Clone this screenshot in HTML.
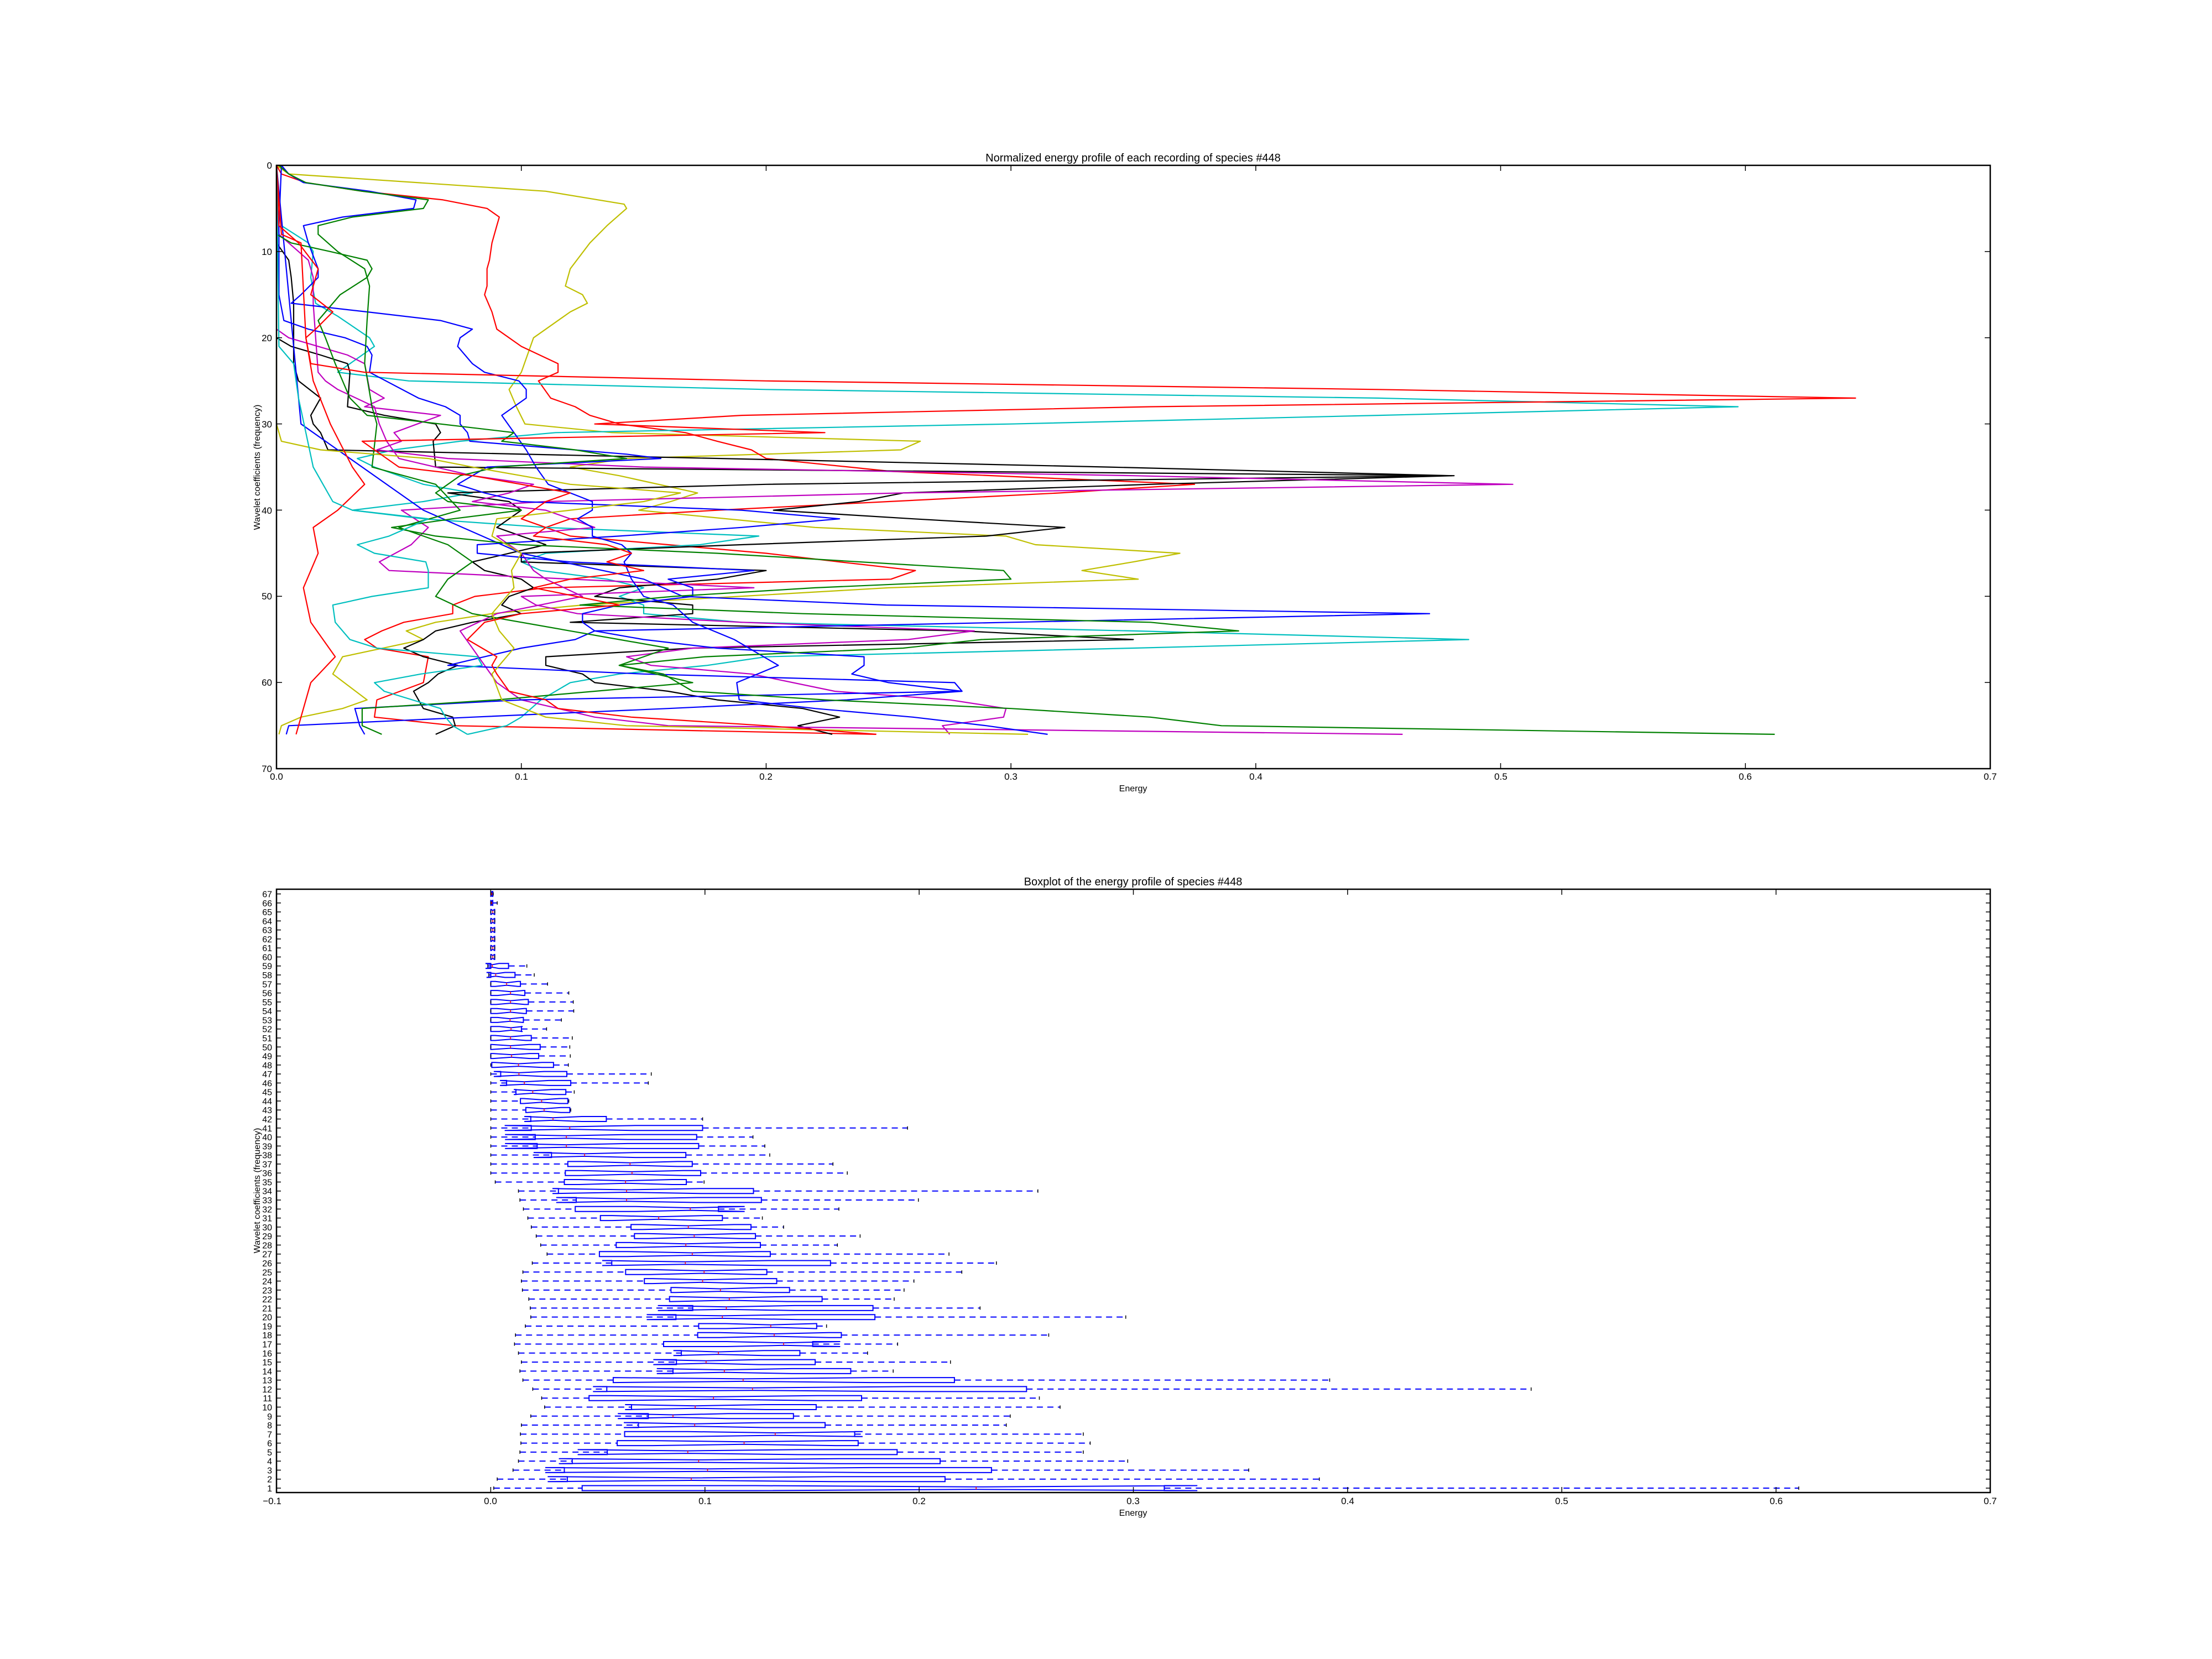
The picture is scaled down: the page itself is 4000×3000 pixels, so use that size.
<!DOCTYPE html>
<html><head><meta charset="utf-8"><style>
html,body{margin:0;padding:0;background:#fff;}
svg{display:block;font-family:"Liberation Sans","DejaVu Sans",sans-serif;}
</style></head><body>
<svg id="s" width="4000" height="3000" viewBox="0 0 4000 3000" xmlns="http://www.w3.org/2000/svg">
<rect width="4000" height="3000" fill="#fff"/>
<g id="top"></g>
<g id="bot"></g>
<!-- axes frames -->
<rect x="500" y="299" width="3099" height="1091" fill="none" stroke="#000" stroke-width="2.5"/>
<rect x="500" y="1608" width="3099" height="1091" fill="none" stroke="#000" stroke-width="2.5"/>
<g id="ticks" stroke="#000" stroke-width="1.5"></g>
<g font-size="20" text-anchor="middle" fill="#000">
<text x="2049" y="292">Normalized energy profile of each recording of species #448</text>
<text x="2049" y="1601">Boxplot of the energy profile of species #448</text>
</g>
<g font-size="16" text-anchor="middle" fill="#000">
<text x="2049" y="1431">Energy</text>
<text x="2049" y="2741">Energy</text>
<text transform="translate(470,845) rotate(-90)">Wavelet coefficients (frequency)</text>
<text transform="translate(470,2153) rotate(-90)">Wavelet coefficients (frequency)</text>
</g>
<g font-size="17" text-anchor="middle" fill="#000">
<text x="500" y="1410">0.0</text><text x="943" y="1410">0.1</text><text x="1385" y="1410">0.2</text><text x="1828" y="1410">0.3</text><text x="2271" y="1410">0.4</text><text x="2714" y="1410">0.5</text><text x="3156" y="1410">0.6</text><text x="3599" y="1410">0.7</text>
<text x="492" y="2720">−0.1</text><text x="887" y="2720">0.0</text><text x="1275" y="2720">0.1</text><text x="1662" y="2720">0.2</text><text x="2049" y="2720">0.3</text><text x="2437" y="2720">0.4</text><text x="2824" y="2720">0.5</text><text x="3212" y="2720">0.6</text><text x="3599" y="2720">0.7</text>
</g>
<g font-size="17" text-anchor="end" fill="#000">
<text x="492" y="305">0</text><text x="492" y="461">10</text><text x="492" y="617">20</text><text x="492" y="773">30</text><text x="492" y="929">40</text><text x="492" y="1084">50</text><text x="492" y="1240">60</text><text x="492" y="1396">70</text>
</g>
<g font-size="16" text-anchor="end" fill="#000">
<text x="492" y="2697">1</text><text x="492" y="2680.7">2</text><text x="492" y="2664.4">3</text><text x="492" y="2648.2">4</text><text x="492" y="2631.9">5</text><text x="492" y="2615.6">6</text><text x="492" y="2599.3">7</text><text x="492" y="2583">8</text><text x="492" y="2566.8">9</text><text x="492" y="2550.5">10</text>
<text x="492" y="2534.2">11</text><text x="492" y="2517.9">12</text><text x="492" y="2501.6">13</text><text x="492" y="2485.4">14</text><text x="492" y="2469.1">15</text><text x="492" y="2452.8">16</text><text x="492" y="2436.5">17</text><text x="492" y="2420.2">18</text><text x="492" y="2404">19</text><text x="492" y="2387.7">20</text>
<text x="492" y="2371.4">21</text><text x="492" y="2355.1">22</text><text x="492" y="2338.8">23</text><text x="492" y="2322.6">24</text><text x="492" y="2306.3">25</text><text x="492" y="2290">26</text><text x="492" y="2273.7">27</text><text x="492" y="2257.4">28</text><text x="492" y="2241.1">29</text><text x="492" y="2224.9">30</text>
<text x="492" y="2208.6">31</text><text x="492" y="2192.3">32</text><text x="492" y="2176">33</text><text x="492" y="2159.7">34</text><text x="492" y="2143.5">35</text><text x="492" y="2127.2">36</text><text x="492" y="2110.9">37</text><text x="492" y="2094.6">38</text><text x="492" y="2078.3">39</text><text x="492" y="2062.1">40</text>
<text x="492" y="2045.8">41</text><text x="492" y="2029.5">42</text><text x="492" y="2013.2">43</text><text x="492" y="1996.9">44</text><text x="492" y="1980.7">45</text><text x="492" y="1964.4">46</text><text x="492" y="1948.1">47</text><text x="492" y="1931.8">48</text><text x="492" y="1915.5">49</text><text x="492" y="1899.3">50</text>
<text x="492" y="1883">51</text><text x="492" y="1866.7">52</text><text x="492" y="1850.4">53</text><text x="492" y="1834.1">54</text><text x="492" y="1817.9">55</text><text x="492" y="1801.6">56</text><text x="492" y="1785.3">57</text><text x="492" y="1769">58</text><text x="492" y="1752.7">59</text><text x="492" y="1736.5">60</text>
<text x="492" y="1720.2">61</text><text x="492" y="1703.9">62</text><text x="492" y="1687.6">63</text><text x="492" y="1671.3">64</text><text x="492" y="1655.1">65</text><text x="492" y="1638.8">66</text><text x="492" y="1622.5">67</text>
</g>
</svg>
<script>
(function(){
var NS="http://www.w3.org/2000/svg";
function el(p,n,a){var e=document.createElementNS(NS,n);for(var k in a)e.setAttribute(k,a[k]);p.appendChild(e);return e;}
var T=document.getElementById('top'),B=document.getElementById('bot'),TK=document.getElementById('ticks');
// ticks
for(var i=0;i<8;i++){var x=500+i*3099/7;el(TK,'line',{x1:x,y1:299,x2:x,y2:309});el(TK,'line',{x1:x,y1:1390,x2:x,y2:1380});}
for(var i=0;i<8;i++){var y=299+i*1091/7;el(TK,'line',{x1:500,y1:y,x2:510,y2:y});el(TK,'line',{x1:3599,y1:y,x2:3589,y2:y});}
for(var i=0;i<9;i++){var x=500+i*3099/8;el(TK,'line',{x1:x,y1:1608,x2:x,y2:1618});el(TK,'line',{x1:x,y1:2699,x2:x,y2:2689});}
for(var k=1;k<=67;k++){var y=2691-16.28*(k-1);el(TK,'line',{x1:500,y1:y,x2:508,y2:y});el(TK,'line',{x1:3599,y1:y,x2:3591,y2:y});}
// top lines
var C={b:'#0000ff',g:'#008000',r:'#ff0000',c:'#00bfbf',m:'#bf00bf',y:'#bfbf00',k:'#000000'};
var S=[
['y',[[0,0],[1,0.005],[3,0.11],[4.5,0.142],[5,0.143],[7,0.135],[9,0.128],[12,0.12],[14,0.118],[15,0.125],[16,0.127],[17,0.12],[19,0.11],[20,0.105],[24,0.1],[26,0.095],[28,0.098],[30,0.1015],[31,0.137],[32,0.263],[33,0.255],[34,0.143],[35,0.12],[36,0.14],[38,0.172],[39,0.161],[40,0.148],[42,0.22],[43,0.298],[44,0.31],[45,0.369],[46,0.35],[47,0.329],[48,0.352],[49,0.25],[50,0.189],[51,0.125],[52,0.088],[53,0.065],[54,0.053],[55,0.06],[57,0.027],[59,0.023],[62,0.037],[63,0.027],[64,0.01],[65,0.002],[66,0.001]]],
['r',[[0,0],[1,0.002],[2,0.012],[3,0.035],[4,0.068],[5,0.086],[6,0.091],[7,0.09],[9,0.088],[11,0.087],[12,0.086],[14,0.086],[15,0.085],[17,0.088],[19,0.09],[21,0.1],[23,0.115],[24,0.115],[25,0.107],[27,0.112],[28,0.122],[29,0.128],[30,0.14],[31,0.167],[32,0.18],[33,0.194],[34,0.2],[35.5,0.251],[37,0.375],[38,0.32],[39,0.25],[40,0.18],[41,0.12],[42,0.11],[43,0.12],[44,0.16],[45,0.2],[46,0.23],[47,0.261],[48,0.251],[49,0.11],[50,0.081],[51,0.072],[52,0.072],[53,0.052],[54,0.043],[55,0.036],[56,0.041],[57,0.062],[60,0.06],[62,0.041],[64,0.04],[65,0.073],[66,0.245]]],
['c',[[0,0],[7,0.002],[9,0.013],[10,0.015],[13,0.014],[16,0.016],[17.5,0.025],[20,0.038],[21,0.04],[24,0.025],[25,0.054],[26,0.2],[27,0.45],[28,0.597],[29,0.45],[30,0.3],[31,0.114],[32,0.075],[33,0.048],[34,0.033],[35,0.04],[37,0.06],[38,0.08],[39,0.06],[40,0.031],[41,0.06],[42,0.11],[43,0.197],[44,0.173],[45,0.11],[46,0.1],[47,0.108],[48,0.135],[49,0.15],[50,0.14],[51,0.15],[52,0.15],[53,0.19],[54,0.35],[55,0.487],[56,0.35],[57,0.2],[58,0.176],[59,0.14],[60,0.12],[62,0.108],[64,0.1],[65,0.094],[66,0.078]]],
['k',[[20,0],[21,0.006],[22,0.018],[23,0.029],[24,0.03],[28,0.029],[29,0.044],[30,0.065],[31,0.067],[32,0.064],[35,0.065],[36,0.481],[37,0.357],[38,0.256],[39,0.238],[40,0.203],[41,0.26],[42,0.322],[43,0.29],[44,0.19],[45,0.1],[46,0.1],[47,0.2],[48,0.18],[49,0.14],[50,0.13],[51,0.17],[52,0.17],[53,0.12],[54,0.28],[55,0.35],[56,0.17],[57,0.11],[58,0.11],[59,0.125],[60,0.13],[61,0.16],[62,0.18],[63,0.215],[64,0.23],[65,0.213],[66,0.227]]],
['k',[[0,0],[9,0],[11,0.005],[13,0.006],[16,0.007],[23,0.007],[25,0.009],[27,0.018],[29,0.014],[30,0.015],[31,0.018],[33,0.021],[35,0.34],[36,0.48],[37,0.2],[38,0.07],[39,0.095],[40,0.1],[42,0.09],[43,0.1],[44,0.11],[46,0.08],[47,0.085],[48,0.1],[49,0.105],[50,0.095],[51,0.092],[52,0.1],[53,0.08],[54,0.065],[55,0.06],[56,0.052],[57,0.06],[58,0.074],[59,0.066],[60,0.062],[61,0.056],[63,0.06],[64,0.072],[65,0.073],[66,0.065]]],
['m',[[19,0],[20,0.005],[22,0.029],[23,0.036],[26,0.038],[27,0.044],[28,0.036],[29,0.067],[31,0.048],[32,0.051],[33,0.041],[34,0.07],[35,0.15],[36,0.35],[37,0.505],[38,0.256],[39,0.11],[40,0.051],[42,0.062],[44,0.055],[46,0.042],[47,0.046],[49,0.195],[50,0.1],[51,0.106],[52,0.123],[53,0.19],[54,0.285],[55,0.258],[56,0.17],[57,0.143],[58,0.153],[59,0.194],[61,0.228],[62,0.275],[63,0.298],[64,0.297],[65,0.272],[66,0.275]]],
['m',[[0,0],[8,0.001],[9,0.005],[11,0.013],[13,0.015],[16,0.015],[20,0.016],[24,0.017],[25,0.02],[26,0.025],[28,0.04],[30,0.042],[32,0.045],[34,0.05],[36,0.08],[37,0.105],[38,0.095],[39,0.08],[40,0.11],[41,0.12],[42,0.13],[43,0.09],[45,0.1],[47,0.105],[48,0.11],[50,0.125],[52,0.09],[54,0.075],[56,0.08],[58,0.085],[60,0.09],[62,0.1],[64,0.13],[65,0.16],[66,0.46]]],
['b',[[0,0.002],[1,0.005],[2,0.011],[3,0.038],[4,0.057],[5,0.056],[6,0.027],[7,0.011],[9,0.013],[12,0.017],[13,0.017],[15,0.01],[16,0.006],[17,0.037],[18,0.067],[19,0.08],[20,0.075],[21,0.074],[23,0.08],[24,0.085],[25,0.099],[26,0.102],[27,0.102],[29,0.092],[31,0.097],[33,0.102],[35,0.106],[37,0.111],[39,0.129],[40,0.129],[41,0.123],[42,0.129],[43,0.129],[44,0.141],[45,0.145],[46,0.142],[48,0.145],[50,0.15],[51,0.162],[53,0.17],[55,0.187],[58,0.205],[60,0.188],[62,0.189],[63,0.22],[64,0.26],[65,0.29],[66,0.315]]],
['b',[[0,0],[30,0.01],[40,0.06],[45,0.1],[48,0.15],[50,0.166],[51,0.249],[52,0.471],[53,0.3],[54,0.13],[55,0.122],[56,0.1],[57,0.085],[58,0.07],[59,0.15],[60,0.277],[61,0.28],[62,0.233],[63,0.16],[64,0.08],[65,0.005],[66,0.004]]],
['b',[[0,0.002],[7,0.001],[15,0.001],[18,0.003],[19,0.013],[20,0.028],[21,0.037],[22,0.039],[24,0.038],[27,0.058],[28,0.069],[29,0.075],[30,0.075],[31,0.078],[32,0.079],[33.5,0.143],[34,0.157],[35,0.086],[37,0.074],[38,0.085],[39,0.1],[40,0.19],[41,0.23],[42,0.19],[43,0.14],[44,0.082],[45,0.082],[46,0.12],[47,0.195],[48,0.16],[49,0.17],[50,0.17],[51,0.14],[52,0.125],[53,0.125],[54,0.13],[55,0.15],[56,0.18],[57,0.24],[58,0.24],[59,0.235],[60,0.25],[61,0.28],[62,0.1],[63,0.032],[65,0.034],[66,0.036]]],
['g',[[0,0],[8,0],[9,0.006],[10,0.022],[11,0.037],[12,0.039],[13,0.037],[15,0.026],[18,0.017],[20,0.02],[23,0.024],[27,0.03],[29,0.037],[31,0.097],[32,0.092],[33,0.122],[34,0.143],[35,0.09],[36,0.075],[37,0.07],[38,0.065],[39,0.07],[40,0.1],[41,0.072],[42,0.047],[43,0.065],[44,0.1],[45,0.18],[47,0.297],[48,0.3],[49,0.22],[50,0.162],[51,0.124],[52,0.215],[53,0.357],[54,0.393],[55,0.288],[56,0.256],[57,0.175],[58,0.14],[59,0.158],[61,0.17],[62,0.224],[63,0.3],[64,0.357],[65,0.386],[66,0.612]]],
['g',[[0,0.001],[1,0.005],[2,0.012],[3,0.035],[4,0.062],[5,0.06],[6,0.031],[7,0.017],[8,0.017],[10,0.025],[12,0.036],[14,0.038],[18,0.037],[23,0.036],[28,0.039],[30,0.041],[35,0.039],[37,0.065],[40,0.075],[42,0.05],[44,0.07],[46,0.08],[48,0.07],[50,0.065],[52,0.08],[54,0.12],[56,0.16],[58,0.14],[60,0.17],[62,0.09],[63,0.035],[65,0.035],[66,0.043]]],
['y',[[0,0],[30,0],[32,0.002],[33,0.018],[34,0.062],[35,0.08],[36,0.1],[37,0.12],[38,0.165],[39,0.15],[40,0.12],[41,0.09],[43,0.088],[45,0.1],[47,0.096],[49,0.097],[52,0.088],[54,0.091],[56,0.097],[59,0.088],[62,0.092],[64,0.11],[65,0.143],[66,0.307]]],
['r',[[0,0],[8,0.002],[9,0.01],[20,0.012],[25,0.015],[30,0.022],[35,0.031],[37,0.036],[40,0.025],[42,0.015],[45,0.017],[49,0.011],[53,0.014],[57,0.024],[60,0.014],[66,0.008]]],
['r',[[0,0],[7,0.001],[9,0.009],[12,0.017],[15,0.014],[17,0.023],[19,0.016],[20,0.012],[23,0.014],[24,0.036],[25,0.2],[26,0.45],[27,0.645],[28,0.357],[29,0.19],[30,0.13],[31,0.224],[32,0.035],[33,0.04],[35,0.05],[36,0.08],[38,0.12],[39,0.11],[40,0.105],[41,0.1],[42,0.11],[43,0.105],[44,0.135],[45,0.145],[46,0.135],[47,0.15],[48,0.12],[49,0.105],[51,0.14],[52,0.1],[53,0.085],[55,0.078],[57,0.09],[58,0.088],[59,0.09],[61,0.095],[62,0.11],[63,0.115],[64,0.145],[65,0.2],[66,0.245]]],
['c',[[0,0],[21,0.001],[23,0.007],[27,0.009],[31,0.012],[35,0.015],[39,0.023],[40,0.031],[41,0.062],[43,0.046],[44,0.033],[45,0.04],[46,0.061],[47,0.062],[49,0.062],[50,0.039],[51,0.023],[53,0.024],[55,0.03],[56,0.041],[57,0.082],[58,0.084],[59,0.059],[60,0.04],[61,0.044],[63,0.067],[64,0.069],[65,0.072],[66,0.078]]]
];
S.forEach(function(s){var p=s[1].map(function(q){return (500+q[1]*4427).toFixed(1)+','+(299+q[0]*15.59).toFixed(1);}).join(' ');
el(T,'polyline',{points:p,fill:'none',stroke:C[s[0]],'stroke-width':2.2,'stroke-linejoin':'round'});});
// boxplot: [lo,q1,med,q3,hi] in zoom units, px = 850 + z/1.12
var D={1:[48,227,1025,1406,2691],2:[55,197,448,962,1720],3:[87,191,481,1056,1577],4:[98,207,463,952,1332],5:[101,278,441,865,1242],6:[103,298,555,786,1256],7:[102,313,618,779,1242],8:[104,341,455,719,1086],9:[123,361,411,655,1094],10:[151,327,456,701,1195],
11:[145,241,493,793,1153],12:[127,277,572,1127,2149],13:[107,290,553,981,1741],14:[101,411,515,771,857],15:[104,418,478,699,973],16:[98,428,503,668,805],17:[90,392,635,694,866],18:[92,461,616,752,1172],19:[112,463,609,702,722],20:[123,417,511,820,1328],
21:[122,451,519,816,1033],22:[119,404,525,713,859],23:[106,407,507,647,879],24:[104,353,471,621,899],25:[107,315,474,601,996],26:[126,287,436,730,1066],27:[156,262,450,608,970],28:[143,296,437,588,744],29:[134,333,454,578,790],30:[124,326,442,569,635],
31:[117,264,382,511,592],32:[108,213,446,503,747],33:[101,215,317,590,908],34:[98,179,317,574,1150],35:[51,191,315,438,474],36:[42,193,328,467,764],37:[42,198,324,450,735],38:[42,165,232,437,607],39:[42,136,195,463,597],40:[42,132,195,459,573],
41:[42,124,202,471,886],42:[42,123,168,276,471],43:[42,113,150,202,204],44:[42,102,145,198,200],45:[42,93,127,194,211],46:[42,74,110,204,361],47:[42,62,99,196,367],48:[42,44,98,169,199],49:[42,42,84,139,203],50:[42,42,82,142,202],
51:[42,42,82,124,207],52:[42,42,83,104,155],53:[42,42,81,108,185],54:[42,42,82,114,210],55:[42,42,82,118,209],56:[42,42,82,111,200],57:[42,42,74,102,157],58:[38,42,52,91,130],59:[36,42,45,78,115],
60:[42,42,46,50,50],61:[42,42,46,50,50],62:[42,42,46,50,50],63:[42,42,46,50,50],64:[42,42,46,50,50],65:[42,42,46,50,50],66:[42,42,44,46,55],67:[42,42,44,46,47]};
function X(z){return 850+z/1.12;}
for(var k=1;k<=67;k++){var d=D[k],y=2691-16.28*(k-1),h=4.5;
var lo=X(d[0]),q1=X(d[1]),md=X(d[2]),q3=X(d[3]),hi=X(d[4]);var n=0.38*(q3-q1);var nl=md-n,nh=md+n;
el(B,'line',{x1:lo,y1:y,x2:q1,y2:y,stroke:'#0000ff','stroke-width':2,'stroke-dasharray':'11,8'});
el(B,'line',{x1:q3,y1:y,x2:hi,y2:y,stroke:'#0000ff','stroke-width':2,'stroke-dasharray':'11,8'});
var pts=[[q1,y-h],[nl,y-h],[md,y-h/2],[nh,y-h],[q3,y-h],[q3,y+h],[nh,y+h],[md,y+h/2],[nl,y+h],[q1,y+h]];
el(B,'polygon',{points:pts.map(function(p){return p[0].toFixed(1)+','+p[1].toFixed(1);}).join(' '),fill:'none',stroke:'#0000ff','stroke-width':2});
el(B,'line',{x1:md,y1:y-h/2,x2:md,y2:y+h/2,stroke:'#ff0000','stroke-width':1.5});
el(B,'line',{x1:lo,y1:y-3,x2:lo,y2:y+3,stroke:'#000','stroke-width':1.5});
el(B,'line',{x1:hi,y1:y-3,x2:hi,y2:y+3,stroke:'#000','stroke-width':1.5});
}
})();
</script>
</body></html>
